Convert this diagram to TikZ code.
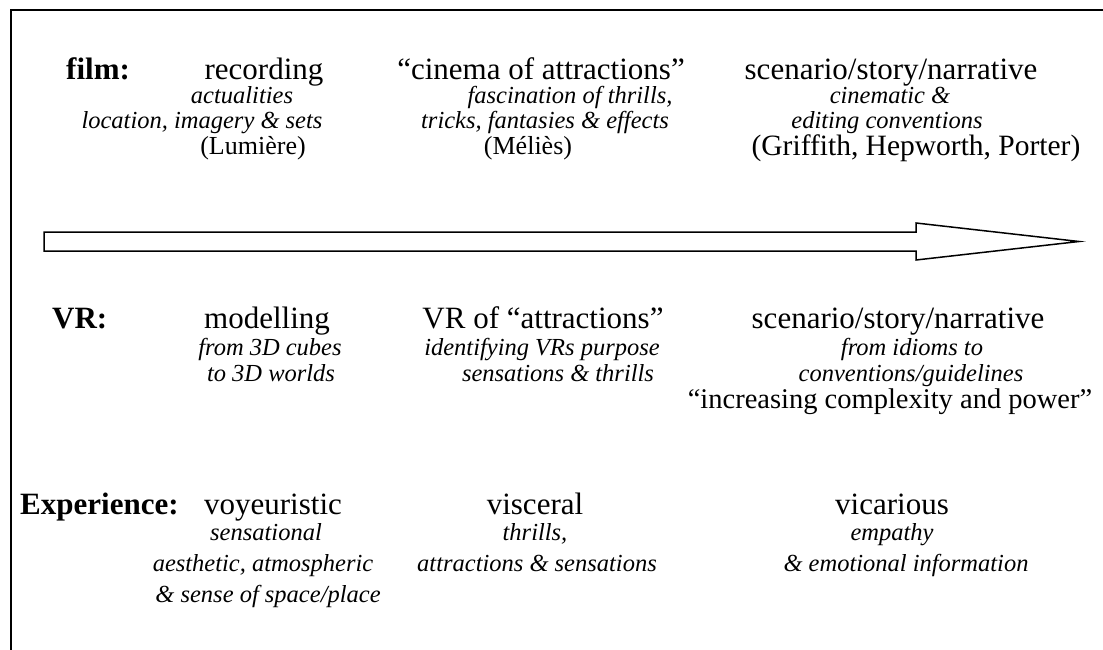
\documentclass[tikz,border=0pt]{standalone}
\usepackage{fontspec}
\setmainfont{Liberation Serif}
\usepackage{tikz}
\usetikzlibrary{positioning}

\tikzset{
  lbl/.style={font=\fontsize{31}{31}\selectfont\bfseries, anchor=base west, inner sep=0pt},
  hd/.style={font=\fontsize{31}{31}\selectfont, anchor=base, inner sep=0pt},
  itl/.style={font=\fontsize{24.5}{24.5}\selectfont\itshape, anchor=base, inner sep=0pt},
  nm/.style={font=\fontsize{26}{26}\selectfont, anchor=base, inner sep=0pt},
}

\begin{document}
\begin{tikzpicture}[x=1pt,y=-1pt]
   \useasboundingbox (0,0) rectangle (1103,650);
   % frame
   \draw[line width=2pt] (11,650) -- (11,10) -- (1103,10);

   % film
   \node[lbl] (filmlbl) at (66,80) {film:};
   \node[hd]  (rec)  at (264,80)  {recording};
   \node[itl] (rec1) at (242,104) {actualities};
   \node[itl] (rec2) at (202,129) {location, imagery \& sets};
   \node[nm]  (rec3) at (253,155) {(Lumière)};
   \node[hd]  (cin)  at (541,80)  {“cinema of attractions”};
   \node[itl] (cin1) at (570,104) {fascination of thrills,};
   \node[itl] (cin2) at (545,129) {tricks, fantasies \& effects};
   \node[nm]  (cin3) at (528,155) {(Méliès)};
   \node[hd]  (scn)  at (891,80)  {scenario/story/narrative};
   \node[itl] (scn1) at (890,104) {cinematic \&};
   \node[itl] (scn2) at (887,129) {editing conventions};
   \node[nm, font=\fontsize{29.5}{29.5}\selectfont] (scn3) at (916,156) {(Griffith, Hepworth, Porter)};

   % arrow
   \draw[line width=1.5pt, line join=miter] (44,232) -- (916,232) -- (916,223) -- (1079,241.5)
        -- (916,260) -- (916,251) -- (44,251) -- cycle;

   % VR
   \node[lbl] (vrlbl) at (52,328) {VR:};
   \node[hd]  (mod)  at (267,328) {modelling};
   \node[itl] (mod1) at (270,355) {from 3D cubes};
   \node[itl] (mod2) at (271,381) {to 3D worlds};
   \node[hd]  (vra)  at (543,328) {VR of “attractions”};
   \node[itl] (vra1) at (542,355) {identifying VRs purpose};
   \node[itl] (vra2) at (558,381) {sensations \& thrills};
   \node[hd]  (vrs)  at (898,328) {scenario/story/narrative};
   \node[itl] (vrs1) at (912,355) {from idioms to};
   \node[itl] (vrs2) at (911,381) {conventions/guidelines};
   \node[nm, font=\fontsize{28.5}{28.5}\selectfont] (vrs3) at (890,408) {“increasing complexity and power”};

   % experience
   \node[lbl] (explbl) at (20,514) {Experience:};
   \node[hd]  (voy)  at (273,514) {voyeuristic};
   \node[itl] (voy1) at (266,540) {sensational};
   \node[itl] (voy2) at (263,571) {aesthetic, atmospheric};
   \node[itl] (voy3) at (268,602) {\& sense of space/place};
   \node[hd]  (vis)  at (535,514) {visceral};
   \node[itl] (vis1) at (535,540) {thrills,};
   \node[itl] (vis2) at (537,571) {attractions \& sensations};
   \node[hd]  (vic)  at (892,514) {vicarious};
   \node[itl] (vic1) at (892,540) {empathy};
   \node[itl] (vic2) at (906,571) {\& emotional information};
\end{tikzpicture}
\end{document}
